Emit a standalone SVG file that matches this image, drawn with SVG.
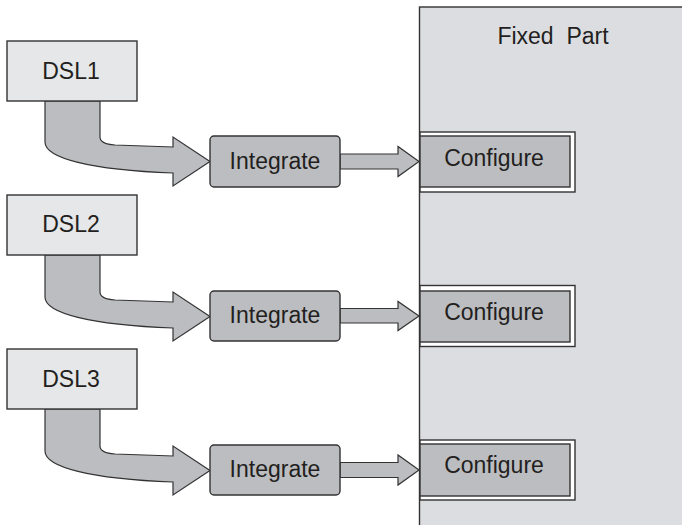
<svg xmlns="http://www.w3.org/2000/svg" width="682" height="525" viewBox="0 0 682 525">
<defs>
<style>
text{font-family:"Liberation Sans",Arial,sans-serif;font-size:23px;fill:#231f20;text-anchor:middle;white-space:pre}
.dsl{fill:#e6e7e8;stroke:#333;stroke-width:1.4}
.int{fill:#bcbdc0;stroke:#333;stroke-width:1.4}
.arr{fill:#bcbdc0;stroke:#333;stroke-width:1.2;stroke-linejoin:miter}
.cfgo{fill:#ffffff;stroke:#333;stroke-width:1.4}
.cfgi{fill:#bcbdc0;stroke:#333;stroke-width:1.4}
.panel{fill:#dcdde0;stroke:#333;stroke-width:1.4}
</style>
</defs>
<g id="fixed-part">
<rect class="panel" x="419.5" y="7" width="270" height="530"/>
<text x="553" y="44" xml:space="preserve">Fixed  Part</text>
</g>
<g id="connectors">
<path class="arr" d="M45,101 L100,101 L100,137 Q100,144 115,145 L173,147 L173,137 L210,161.5 L173,186 L173,173 C90,170 45,158 45,142 Z"/>
<path class="arr" d="M340,154 L398,154 L398,146.5 L419,161.5 L398,176.5 L398,169 L340,169 Z"/>
<path class="arr" d="M45,255 L100,255 L100,292 Q100,299 115,300 L173,302 L173,292 L210,316.5 L173,341 L173,328 C90,325 45,313 45,297 Z"/>
<path class="arr" d="M340,308.5 L398,308.5 L398,301.5 L419,316 L398,330.5 L398,323 L340,323 Z"/>
<path class="arr" d="M45,409 L100,409 L100,446 Q100,453 115,454 L173,456 L173,446 L210,470.5 L173,495 L173,482 C90,479 45,467 45,451 Z"/>
<path class="arr" d="M340,462.5 L398,462.5 L398,455 L419,470 L398,485 L398,477.5 L340,477.5 Z"/>
</g>
<g id="dsl1"><rect class="dsl" x="7" y="41" width="130" height="60"/><text x="71" y="79">DSL1</text></g>
<g id="dsl2"><rect class="dsl" x="7" y="195" width="130" height="60"/><text x="71" y="232">DSL2</text></g>
<g id="dsl3"><rect class="dsl" x="7" y="349" width="130" height="60"/><text x="71" y="387">DSL3</text></g>
<g id="integrate1"><rect class="int" x="210" y="136" width="130" height="51" rx="4"/><text x="275" y="169">Integrate</text></g>
<g id="integrate2"><rect class="int" x="210" y="291" width="130" height="50" rx="4"/><text x="275" y="323">Integrate</text></g>
<g id="integrate3"><rect class="int" x="210" y="445" width="130" height="50" rx="4"/><text x="275" y="477">Integrate</text></g>
<g id="configure1"><rect class="cfgo" x="420" y="132" width="155" height="60"/><rect class="cfgi" x="420" y="136" width="150" height="51"/><text x="494" y="166">Configure</text></g>
<g id="configure2"><rect class="cfgo" x="420" y="285.5" width="155" height="61"/><rect class="cfgi" x="420" y="291" width="150" height="51"/><text x="494" y="320">Configure</text></g>
<g id="configure3"><rect class="cfgo" x="420" y="440" width="155" height="60"/><rect class="cfgi" x="420" y="444" width="150" height="52"/><text x="494" y="473">Configure</text></g>
</svg>
